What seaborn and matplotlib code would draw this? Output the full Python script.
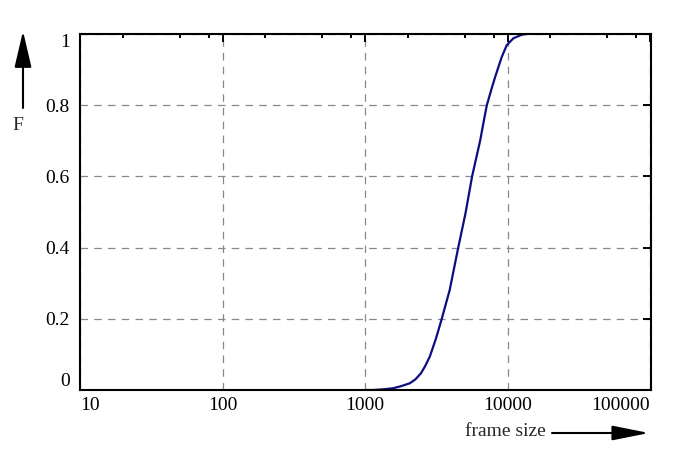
import numpy as np
import pandas as pd
import matplotlib
matplotlib.use("Agg")
import matplotlib.pyplot as plt
import seaborn as sns
from matplotlib.ticker import FixedLocator, LogLocator, NullFormatter

frame_size = [1000, 1143, 1350, 1577, 1800, 2065, 2260, 2470, 2650, 2850,
              3150, 3440, 3930, 4500, 5070, 5650, 6440, 6790, 7160, 7690,
              8200, 9120, 9890, 11000, 12600, 13600]
cdf = [0.0, 0.0, 0.002, 0.005, 0.011, 0.019, 0.03, 0.047, 0.068, 0.094,
       0.145, 0.197, 0.281, 0.398, 0.496, 0.601, 0.702, 0.752, 0.800, 0.843,
       0.880, 0.936, 0.969, 0.988, 0.998, 1.0]

x_ticks = [10, 100, 1000, 10000, 100000]
x_labels = ["10", "100", "1000", "10000", "100000"]
y_ticks = [0, 0.2, 0.4, 0.6, 0.8, 1.0]
y_labels = ["0", "0.2", "0.4", "0.6", "0.8", "1"]

df = pd.DataFrame({"frame size": frame_size, "F": cdf})

sns.set_style("white")
plt.rcParams["font.family"] = ["Liberation Serif", "DejaVu Serif"]
plt.rcParams["font.size"] = 14

fig = plt.figure(figsize=(7, 4.51), dpi=100)
ax = fig.add_axes([80 / 700, 61 / 451, 571 / 700, 356 / 451])

sns.lineplot(data=df, x="frame size", y="F", ax=ax, color="#0d0d80",
             linewidth=1.6, estimator=None)

ax.set_xscale("log")
ax.set_xlim(10, 100000 * 10 ** (1 / 143))
ax.set_ylim(0, 1)

ax.xaxis.set_major_locator(FixedLocator(x_ticks))
ax.set_xticklabels(x_labels)
ax.xaxis.set_minor_locator(LogLocator(base=10, subs=[2, 5, 8], numticks=20))
ax.xaxis.set_minor_formatter(NullFormatter())
ax.set_yticks(y_ticks)
ax.set_yticklabels(y_labels)

ax.tick_params(which="both", direction="in", top=True, right=True,
               width=1.4, colors="black", labelcolor="black")
ax.tick_params(which="major", length=5.5)
ax.tick_params(which="minor", length=3)
ax.tick_params(axis="x", pad=5)
ax.tick_params(axis="y", pad=7.2)

# keep edge labels inside the frame
xl = ax.get_xticklabels()
xl[0].set_ha("left")
xl[-1].set_ha("right")
yl = ax.get_yticklabels()
yl[0].set_va("bottom")
yl[-1].set_va("top")

for s in ax.spines.values():
    s.set_linewidth(1.5)
    s.set_color("black")

ax.grid(True, which="major", color="#888888", linewidth=0.9,
        linestyle=(0, (6, 5)))
ax.set_xlabel("")
ax.set_ylabel("")

# axis labels with arrows
fig.text(505 / 700, 1 - 431 / 451, "frame size", ha="center", va="center")
ax.annotate("", xy=(649, 451 - 433), xytext=(552, 451 - 433),
            xycoords="figure pixels", textcoords="figure pixels",
            arrowprops=dict(arrowstyle="-|>,head_length=1.5,head_width=0.3",
                            color="black", lw=1.5, mutation_scale=15,
                            shrinkA=0, shrinkB=0))
fig.text(18 / 700, 1 - 126 / 451, "F", ha="center", va="center")
ax.annotate("", xy=(23, 451 - 31), xytext=(23, 451 - 108),
            xycoords="figure pixels", textcoords="figure pixels",
            arrowprops=dict(arrowstyle="-|>,head_length=1.5,head_width=0.35",
                            color="black", lw=1.5, mutation_scale=15,
                            shrinkA=0, shrinkB=0))

fig.savefig("out.png", dpi=100)
